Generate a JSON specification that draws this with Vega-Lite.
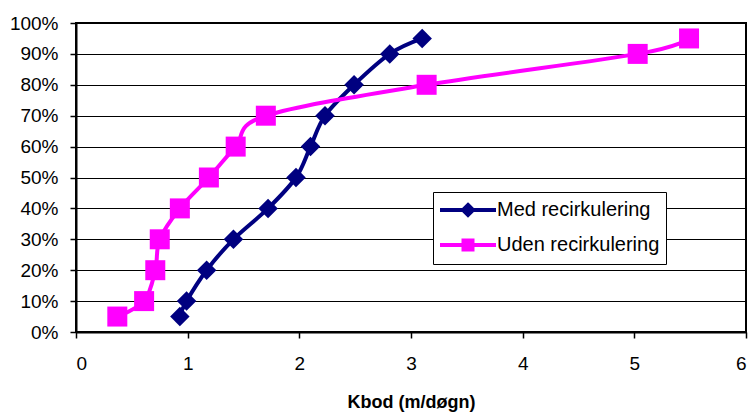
{
  "$schema": "https://vega.github.io/schema/vega-lite/v6.json",
  "width": 670,
  "height": 309,
  "autosize": {"type": "none"},
  "padding": {"left": 76, "top": 23, "right": 6, "bottom": 80},
  "background": "white",
  "config": {
    "font": "Liberation Sans",
    "view": {"stroke": "black", "strokeWidth": 2},
    "axis": {
      "labelFont": "Liberation Sans",
      "labelFontSize": 19,
      "labelColor": "black",
      "titleFont": "Liberation Sans",
      "titleColor": "black",
      "domainColor": "black",
      "domainWidth": 2,
      "tickColor": "black",
      "tickWidth": 1.5,
      "tickSize": 6
    }
  },
  "data": {
    "values": [
      {"serie": "Med recirkulering", "k": 0.93, "p": 0.05},
      {"serie": "Med recirkulering", "k": 0.99, "p": 0.10},
      {"serie": "Med recirkulering", "k": 1.17, "p": 0.20},
      {"serie": "Med recirkulering", "k": 1.41, "p": 0.30},
      {"serie": "Med recirkulering", "k": 1.72, "p": 0.40},
      {"serie": "Med recirkulering", "k": 1.97, "p": 0.50},
      {"serie": "Med recirkulering", "k": 2.10, "p": 0.60},
      {"serie": "Med recirkulering", "k": 2.23, "p": 0.70},
      {"serie": "Med recirkulering", "k": 2.49, "p": 0.80},
      {"serie": "Med recirkulering", "k": 2.81, "p": 0.90},
      {"serie": "Med recirkulering", "k": 3.10, "p": 0.95},
      {"serie": "Uden recirkulering", "k": 0.37, "p": 0.05},
      {"serie": "Uden recirkulering", "k": 0.61, "p": 0.10},
      {"serie": "Uden recirkulering", "k": 0.71, "p": 0.20},
      {"serie": "Uden recirkulering", "k": 0.75, "p": 0.30},
      {"serie": "Uden recirkulering", "k": 0.93, "p": 0.40},
      {"serie": "Uden recirkulering", "k": 1.19, "p": 0.50},
      {"serie": "Uden recirkulering", "k": 1.43, "p": 0.60},
      {"serie": "Uden recirkulering", "k": 1.70, "p": 0.70},
      {"serie": "Uden recirkulering", "k": 3.14, "p": 0.80},
      {"serie": "Uden recirkulering", "k": 5.03, "p": 0.90},
      {"serie": "Uden recirkulering", "k": 5.49, "p": 0.95}
    ]
  },
  "encoding": {
    "x": {
      "field": "k",
      "type": "quantitative",
      "scale": {"domain": [0, 6], "nice": false, "zero": true},
      "axis": {
        "values": [0, 1, 2, 3, 4, 5, 6],
        "grid": false,
        "labelPadding": 16,
        "title": "Kbod (m/døgn)",
        "titleFontSize": 18,
        "titleFontWeight": "bold",
        "titlePadding": 20
      }
    },
    "y": {
      "field": "p",
      "type": "quantitative",
      "scale": {"domain": [0, 1], "nice": false},
      "axis": {
        "values": [0, 0.1, 0.2, 0.3, 0.4, 0.5, 0.6, 0.7, 0.8, 0.9, 1],
        "format": ".0%",
        "grid": true,
        "gridColor": "black",
        "gridWidth": 1,
        "gridOpacity": 1,
        "labelPadding": 12,
        "title": null
      }
    },
    "color": {
      "field": "serie",
      "type": "nominal",
      "scale": {
        "domain": ["Med recirkulering", "Uden recirkulering"],
        "range": ["#000080", "#FF00FF"]
      },
      "legend": {
        "title": null,
        "orient": "none",
        "legendX": 357,
        "legendY": 169,
        "fillColor": "white",
        "strokeColor": "black",
        "padding": 6,
        "symbolSize": 400,
        "symbolOffset": 17,
        "symbolStrokeWidth": 4,
        "labelFontSize": 20,
        "labelColor": "black",
        "labelOffset": 17,
        "labelLimit": 400,
        "rowPadding": 9,
        "encode": {
          "symbols": {
            "update": {
              "shape": {"signal": "datum.value === 'Med recirkulering' ? 'M-2.8,0H2.8M0,-0.5L0.5,0L0,0.5L-0.5,0Z' : 'M-2.8,0H2.8M-0.45,-0.45H0.45V0.45H-0.45Z'"},
              "fill": {"signal": "datum.value === 'Med recirkulering' ? '#000080' : '#FF00FF'"},
              "stroke": {"signal": "datum.value === 'Med recirkulering' ? '#000080' : '#FF00FF'"},
              "strokeWidth": {"value": 4},
              "opacity": {"value": 1}
            }
          }
        }
      }
    }
  },
  "layer": [
    {
      "mark": {"type": "line", "interpolate": "cardinal", "tension": 0, "strokeWidth": 4}
    },
    {
      "transform": [{"filter": "datum.serie === 'Med recirkulering'"}],
      "mark": {"type": "point", "shape": "diamond", "size": 380, "filled": true, "opacity": 1}
    },
    {
      "transform": [{"filter": "datum.serie === 'Uden recirkulering'"}],
      "mark": {"type": "point", "shape": "square", "size": 400, "filled": true, "opacity": 1}
    }
  ]
}
